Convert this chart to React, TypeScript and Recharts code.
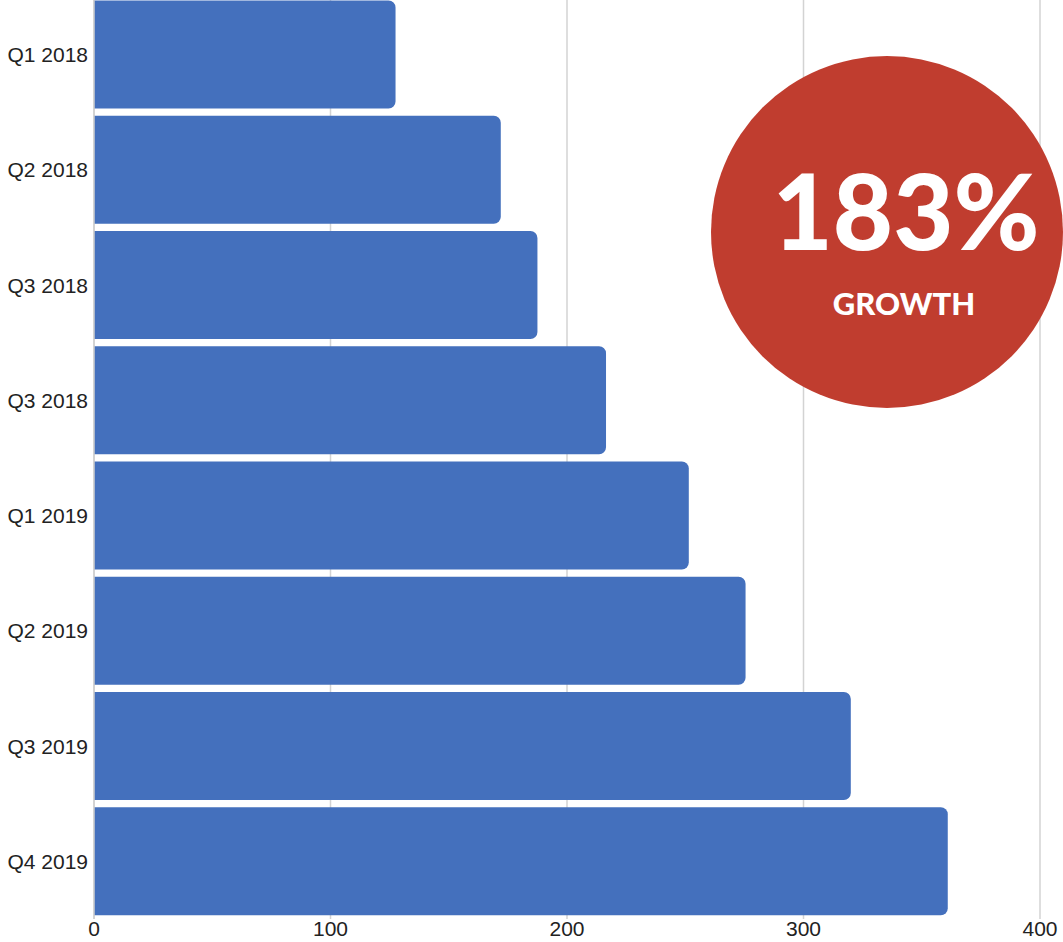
import React from 'react';
import { BarChart, Bar, XAxis, YAxis, CartesianGrid } from 'recharts';

const quarters = ['Q1 2018', 'Q2 2018', 'Q3 2018', 'Q3 2018', 'Q1 2019', 'Q2 2019', 'Q3 2019', 'Q4 2019'];
const revenue = [127.5, 172, 187.5, 216.5, 251.5, 275.5, 320, 361];
const xTicks = [0, 100, 200, 300, 400];
const growthLabel = '183%';
const growthCaption = 'GROWTH';

const data = quarters.map((q, i) => ({ idx: i, quarter: q, value: revenue[i] }));

const tickFont = { fill: '#222', fontSize: 21, fontFamily: 'Liberation Sans, Arial, sans-serif' };

function GrowthBadge() {
  return (
    <g>
      <circle cx={887} cy={232} r={176} fill="#C03D2F" />
      <text
        x={906}
        y={250}
        textAnchor="middle"
        fill="#fff"
        style={{ fontFamily: 'Lato, sans-serif', fontWeight: 900, fontSize: 104 }}
      >
        {growthLabel}
      </text>
      <text
        x={904}
        y={315}
        textAnchor="middle"
        fill="#fff"
        style={{ fontFamily: 'Lato, sans-serif', fontWeight: 900, fontSize: 31 }}
      >
        {growthCaption}
      </text>
    </g>
  );
}

export default function App() {
  return (
    <div style={{ position: 'absolute', top: 0, left: 0, width: 1063, height: 942, background: '#fff' }}>
      <BarChart
        width={1063}
        height={942}
        data={data}
        layout="vertical"
        margin={{ top: -3, right: 23, left: 0, bottom: 0 }}
        barCategoryGap={3.5}
      >
        <CartesianGrid horizontal={false} stroke="#d3d3d3" strokeWidth={1.5} />
        <XAxis
          type="number"
          domain={[0, 400]}
          ticks={xTicks}
          axisLine={false}
          tickLine={false}
          tickSize={0}
          tickMargin={2}
          height={23}
          tick={tickFont}
        />
        <YAxis
          type="category"
          dataKey="idx"
          width={94}
          tickFormatter={(i) => quarters[i]}
          axisLine={{ stroke: '#cfcfcf', strokeWidth: 1.5 }}
          tickLine={false}
          tickSize={0}
          tickMargin={6}
          tick={tickFont}
        />
        <Bar dataKey="value" fill="#4470BD" radius={[0, 7, 7, 0]} isAnimationActive={false} />
        <GrowthBadge />
      </BarChart>
    </div>
  );
}
